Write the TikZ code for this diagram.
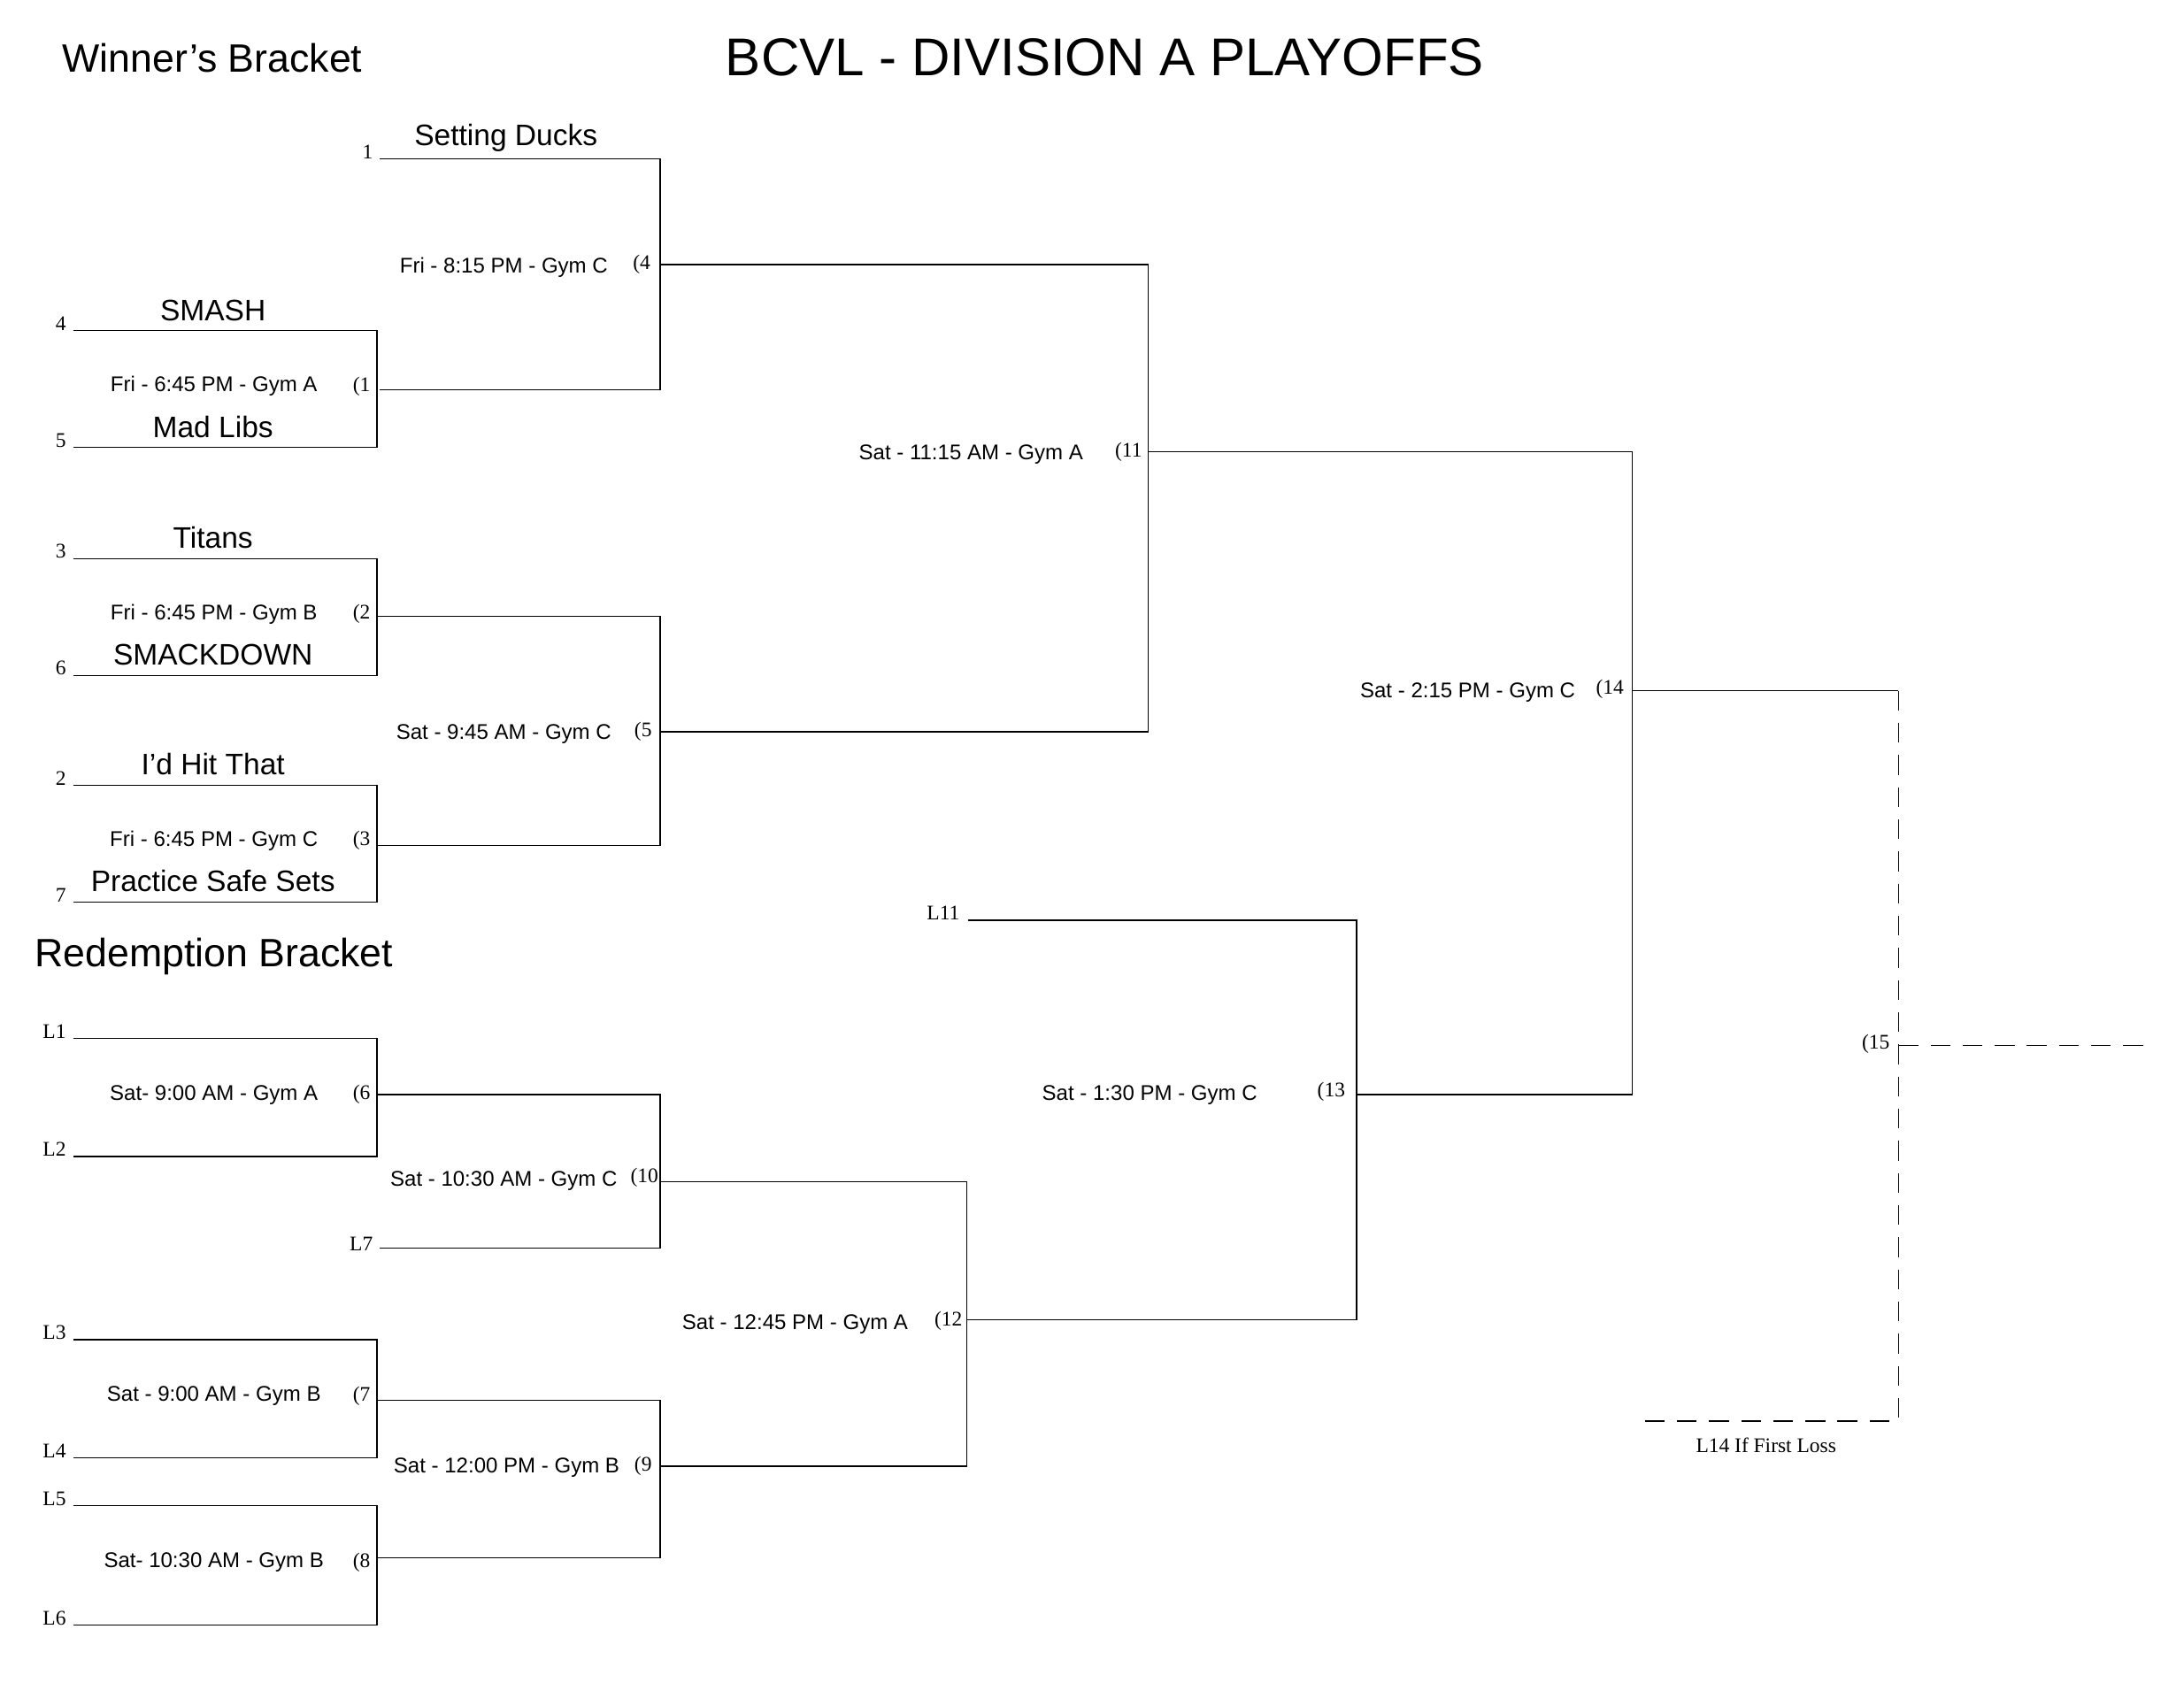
\documentclass[tikz,border=0pt]{standalone}
\usepackage{fontspec}
\setmainfont{Liberation Sans}
\newfontfamily\seedfont{Liberation Serif}
\usetikzlibrary{calc,positioning}
\tikzset{
  bline/.style={black, line width=0.5pt},
  dline/.style={black, line width=0.5pt, dash pattern=on 8pt off 5pt},
  team/.style={font=\fontsize{12}{14}\selectfont, inner sep=1pt},
  game/.style={font=\fontsize{8.6}{10}\selectfont, inner sep=1pt},
  seed/.style={font=\seedfont\fontsize{8.4}{10}\selectfont, inner sep=1pt},
  head/.style={font=\fontsize{16}{18}\selectfont, inner sep=1pt},
}
\begin{document}
\begin{tikzpicture}[x=0.02cm,y=-0.02cm]
\useasboundingbox (0,0) rectangle (1552,1196);
% titles
\node[font=\fontsize{21.5}{25}\selectfont] (title) at (785,41) {BCVL - DIVISION A PLAYOFFS};
\node[head] (wb) at (151,41) {Winner’s Bracket};
\node[head] (rb) at (152,680) {Redemption Bracket};
% first round pairs: name / top y / bottom y / game label / game no / seeds / teams
\foreach \n/\t/\b/\g/\k/\sa/\sb/\ta/\tb in {
  m1/235/318/{Fri - 6:45 PM - Gym A}/1/4/5/SMASH/Mad Libs,
  m2/397/480/{Fri - 6:45 PM - Gym B}/2/3/6/Titans/SMACKDOWN,
  m3/558/641/{Fri - 6:45 PM - Gym C}/3/2/7/{I’d Hit That}/{Practice Safe Sets},
  m6/738/822/{Sat- 9:00 AM - Gym A}/6/L1/L2//,
  m7/952/1036/{Sat - 9:00 AM - Gym B}/7/L3/L4//,
  m8/1070/1155/{Sat- 10:30 AM - Gym B}/8/L5/L6//} {
  \coordinate (\n-a) at (52,\t);
  \coordinate (\n-b) at (268,\t);
  \coordinate (\n-c) at (268,\b);
  \coordinate (\n-d) at (52,\b);
  \draw[bline] (\n-a) -- (\n-b) -- (\n-c) -- (\n-d);
  \node[seed, anchor=south east] (\n-s1) at ($(\n-a)+(-3,2)$) {\sa};
  \node[seed, anchor=south east] (\n-s2) at ($(\n-d)+(-3,2)$) {\sb};
  \node[team, anchor=south] (\n-t1) at ($(\n-a)!0.46!(\n-b)+(0,-5)$) {\ta};
  \node[team, anchor=south] (\n-t2) at ($(\n-d)!0.46!(\n-c)+(0,-5)$) {\tb};
  \node[game] (\n-g) at (152,{(\t+\b)/2-2}) {\g};
  \node[seed] (\n-k) at (257,{(\t+\b)/2-2}) {(\k};
}
% later rounds
\coordinate (sd-a) at (270,113);
\coordinate (sd-b) at (469,113);
\node[seed, anchor=south east] (sd-s) at ($(sd-a)+(-3,2)$) {1};
\node[team, anchor=south] (sd-t) at ($(sd-a)!0.45!(sd-b)+(0,-3)$) {Setting Ducks};
\coordinate (m1-w) at (469,277);
\draw[bline] (sd-a) -- (sd-b) -- (m1-w) -- (270,277);
\coordinate (m4-a) at (469,188);
\coordinate (m4-b) at (816,188);
\coordinate (m2-w) at (469,438);
\coordinate (m3-w) at (469,601);
\draw[bline] (268,438) -- (m2-w) -- (m3-w) -- (268,601);
\coordinate (m5-a) at (469,520);
\coordinate (m5-b) at (816,520);
\draw[bline] (m4-a) -- (m4-b) -- (m5-b) -- (m5-a);
\node[game] (m4-g) at (358,190) {Fri - 8:15 PM - Gym C};
\node[seed] (m4-k) at (456,188) {(4};
\node[game] (m5-g) at (358,522) {Sat - 9:45 AM - Gym C};
\node[seed] (m5-k) at (457,520) {(5};
\coordinate (m11-a) at (816,321);
\coordinate (m11-b) at (1160,321);
\coordinate (m13-a) at (964,778);
\coordinate (m13-b) at (1160,778);
\draw[bline] (m11-a) -- (m11-b) -- (m13-b) -- (m13-a);
\node[game] (m11-g) at (690,323) {Sat - 11:15 AM - Gym A};
\node[seed] (m11-k) at (802,321) {(11};
% redemption side
\coordinate (m6-w) at (469,778);
\coordinate (l7-a) at (270,887);
\coordinate (l7-b) at (469,887);
\draw[bline] (268,778) -- (m6-w) -- (l7-b) -- (l7-a);
\node[seed, anchor=south east] (l7-s) at ($(l7-a)+(-3,4)$) {L7};
\coordinate (m7-w) at (469,995);
\coordinate (m8-w) at (469,1107);
\draw[bline] (268,995) -- (m7-w) -- (m8-w) -- (268,1107);
\node[game] (m10-g) at (358,839) {Sat - 10:30 AM - Gym C};
\node[seed] (m10-k) at (458,837) {(10};
\node[game] (m9-g) at (360,1043) {Sat - 12:00 PM - Gym B};
\node[seed] (m9-k) at (457,1042) {(9};
\coordinate (m10-a) at (469,840);
\coordinate (m10-b) at (687,840);
\coordinate (m9-a) at (469,1042);
\coordinate (m9-b) at (687,1042);
\draw[bline] (m10-a) -- (m10-b) -- (m9-b) -- (m9-a);
\coordinate (m12-a) at (687,938);
\coordinate (m12-b) at (964,938);
\coordinate (l11-a) at (688,654);
\coordinate (l11-b) at (964,654);
\draw[bline] (l11-a) -- (l11-b) -- (m12-b) -- (m12-a);
\node[seed, anchor=east] (l11-s) at (684,649) {L11};
\node[game] (m12-g) at (565,941) {Sat - 12:45 PM - Gym A};
\node[seed] (m12-k) at (674,939) {(12};
\node[game] (m13-g) at (817,778) {Sat - 1:30 PM - Gym C};
\node[seed] (m13-k) at (946,776) {(13};
% final
\coordinate (m14-a) at (1160,491);
\coordinate (m14-b) at (1349,491);
\draw[bline] (m14-a) -- (m14-b);
\node[game] (m14-g) at (1043,492) {Sat - 2:15 PM - Gym C};
\node[seed] (m14-k) at (1144,490) {(14};
\coordinate (l14-a) at (1163,1010);
\coordinate (l14-b) at (1349,1010);
\draw[dline] (m14-b) -- (l14-b) -- (l14-a);
\node[seed] (l14-t) at (1255,1027) {L14 If First Loss};
\coordinate (m15-a) at (1349,743);
\coordinate (m15-b) at (1525,743);
\draw[dline] (m15-a) -- (m15-b);
\node[seed] (m15-k) at (1333,742) {(15};
\end{tikzpicture}
\end{document}
